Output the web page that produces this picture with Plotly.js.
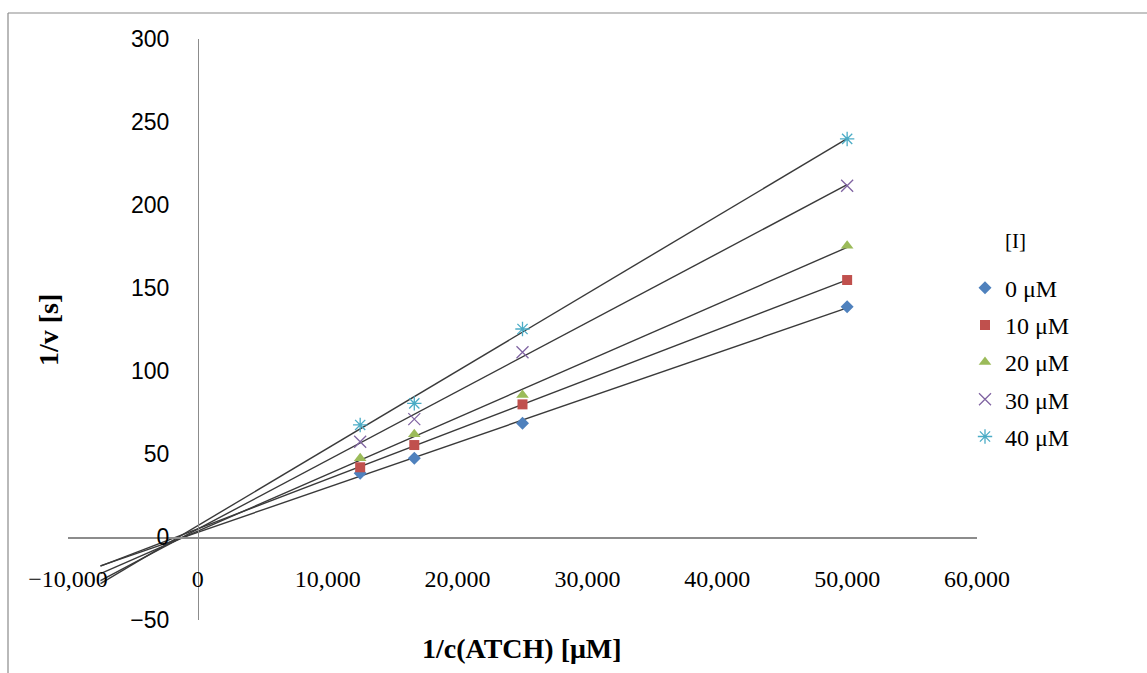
<!DOCTYPE html>
<html>
<head>
<meta charset="utf-8">
<script src="https://cdn.plot.ly/plotly-3.0.1.min.js"></script>
<style>html,body{margin:0;padding:0;background:#fff;} #chart{width:1147px;height:673px;}</style>
</head>
<body>
<div id="chart"></div>
<script>
// ---- data ----
const xValues = [12500, 16667, 25000, 50000];           // 1/c(ATCH)
const seriesNames = ["0 μM", "10 μM", "20 μM", "30 μM", "40 μM"];
const y0uM  = [38.4, 47.4, 68.5, 138.7];
const y10uM = [42.0, 55.4, 79.9, 154.8];
const y20uM = [47.4, 61.9, 85.5, 175.5];
const y30uM = [57.4, 71.0, 111.3, 211.6];
const y40uM = [67.5, 80.5, 125.3, 239.8];
const xTickVals = [-10000, 0, 10000, 20000, 30000, 40000, 50000, 60000];
const yTickVals = [-50, 0, 50, 100, 150, 200, 250, 300];
const legendTitle = "[I]";
const trendBackward = 20000;   // trendline extended backwards by this amount

const seriesY = [y0uM, y10uM, y20uM, y30uM, y40uM];
const colors = ["#4F81BD", "#C0504D", "#9BBB59", "#8064A2", "#4BACC6"];
const symbols = ["diamond", "square", "triangle-up", "x-thin-open", "asterisk-open"];
const sizes = [10, 10, 11, 12, 12];

function linfit(xs, ys) {
  const n = xs.length;
  const mx = xs.reduce((a, b) => a + b, 0) / n;
  const my = ys.reduce((a, b) => a + b, 0) / n;
  let sxy = 0, sxx = 0;
  for (let i = 0; i < n; i++) { sxy += (xs[i] - mx) * (ys[i] - my); sxx += (xs[i] - mx) ** 2; }
  const m = sxy / sxx;
  return { m: m, b: my - m * mx };
}

const traces = [];
const xMin = Math.min(...xValues) - trendBackward;
const xMax = Math.max(...xValues);
seriesY.forEach((ys, i) => {
  const f = linfit(xValues, ys);
  traces.push({
    x: [xMin, xMax], y: [f.m * xMin + f.b, f.m * xMax + f.b],
    mode: "lines", line: { color: "#3a3a3a", width: 1.4 },
    showlegend: false, hoverinfo: "skip"
  });
});
seriesY.forEach((ys, i) => {
  traces.push({
    x: xValues, y: ys, name: seriesNames[i], mode: "markers",
    legendgroup: "g" + i,
    marker: {
      symbol: symbols[i], size: sizes[i], color: colors[i],
      line: { color: colors[i], width: (i >= 3 ? 1.3 : 0) }
    }
  });
});

const serif = "Liberation Serif, DejaVu Serif, serif";
const borderColor = "#8a8a8a";
const layout = {
  width: 1147, height: 673,
  margin: { l: 68, r: 170, t: 39, b: 53 },
  paper_bgcolor: "#fff", plot_bgcolor: "#fff",
  showlegend: true,
  xaxis: {
    range: [-10000, 60000], tickvals: xTickVals, tickformat: ",",
    showgrid: false, zeroline: false, showline: true, linecolor: "#8c8c8c", linewidth: 1.5,
    anchor: "free", position: 50 / 350, ticks: "",
    ticklabelstandoff: 20,
    tickfont: { family: serif, size: 24, color: "#000" }
  },
  yaxis: {
    range: [-50, 300], tickvals: yTickVals,
    showgrid: false, zeroline: false, showline: true, linecolor: "#8c8c8c", linewidth: 1.5,
    anchor: "free", position: 10000 / 70000, ticks: "",
    ticklabelstandoff: 24,
    tickfont: { family: "Liberation Sans, Arial, sans-serif", size: 23, color: "#000" }
  },
  legend: {
    x: 0.9868, xanchor: "left", y: 0.610, yanchor: "top",
    bgcolor: "rgba(0,0,0,0)", borderwidth: 0,
    tracegroupgap: 3,
    font: { family: serif, size: 24, color: "#000" }
  },
  annotations: [
    { text: legendTitle, xref: "paper", yref: "paper", x: (1015 - 68) / 909, y: (620 - 241) / 581,
      showarrow: false, xanchor: "center", yanchor: "middle",
      font: { family: serif, size: 21, color: "#000" } },
    { text: "<b>1/c(ATCH) [μM]</b>", xref: "paper", yref: "paper", x: (522 - 68) / 909, y: (620 - 648) / 581,
      showarrow: false, xanchor: "center", yanchor: "middle",
      font: { family: serif, size: 28, color: "#000" } },
    { text: "<b>1/v [s]</b>", xref: "paper", yref: "paper", x: (48 - 68) / 909, y: (620 - 330) / 581,
      showarrow: false, xanchor: "center", yanchor: "middle", textangle: -90,
      font: { family: serif, size: 28, color: "#000" } }
  ],
  shapes: [
    { type: "line", xref: "paper", yref: "paper", x0: (8 - 68) / 909, x1: (1147 - 68) / 909,
      y0: (620 - 13) / 581, y1: (620 - 13) / 581, line: { color: borderColor, width: 1.2 } },
    { type: "line", xref: "paper", yref: "paper", x0: (8 - 68) / 909, x1: (8 - 68) / 909,
      y0: (620 - 13) / 581, y1: (620 - 680) / 581, line: { color: borderColor, width: 1.2 } }
  ]
};

Plotly.newPlot("chart", traces, layout, { displayModeBar: false, staticPlot: true });
</script>
</body>
</html>
